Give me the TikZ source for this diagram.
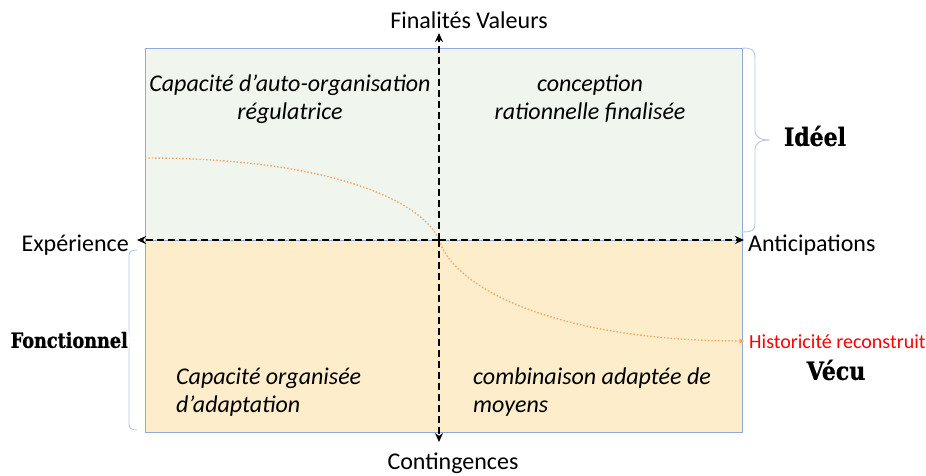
\documentclass[tikz,border=0pt]{standalone}
\usepackage{fontspec}
\setmainfont{Carlito}
\newfontfamily\slabfont[FakeStretch=0.84,FakeBold=1]{DejaVu Serif}
\newfontfamily\slabbigfont[FakeStretch=0.88,FakeBold=1]{DejaVu Serif}
\usetikzlibrary{arrows.meta}
\definecolor{greenfill}{HTML}{F0F6ED}
\definecolor{orangefill}{HTML}{FEEDCB}
\definecolor{boxborder}{HTML}{8FAADC}
\definecolor{curveorange}{HTML}{F4A460}
\definecolor{braceblue}{HTML}{B4C7E7}
\tikzset{
  zone/.style={draw=boxborder, line width=0.9pt},
  axis/.style={line width=2.8pt, dash pattern=on 7pt off 4pt, -{Stealth[length=9pt,width=8pt]}},
  quadtext/.style={font=\fontsize{24}{28}\selectfont\itshape, align=center, inner sep=0pt},
  quadleft/.style={font=\fontsize{24}{28}\selectfont\itshape, align=left, anchor=north west, inner sep=0pt},
  axislabel/.style={font=\fontsize{24}{26}\selectfont, inner sep=0pt},
  sidelabel/.style={font=\fontsize{21}{24}\selectfont\slabfont\bfseries, inner sep=0pt},
  sidebig/.style={font=\fontsize{25}{28}\selectfont\slabbigfont\bfseries, inner sep=0pt},
  bracestyle/.style={draw=braceblue, line width=0.9pt},
  curve/.style={draw=curveorange, line width=1.4pt, dotted, -{Stealth[length=5pt,width=5pt]}}
}
\begin{document}
\begin{tikzpicture}[x=1pt,y=-1pt]
\useasboundingbox (0,0) rectangle (926,475);
% zones
\filldraw[zone, fill=greenfill] (145,48) rectangle (742,240);
\filldraw[zone, fill=orangefill] (145,240) rectangle (742,432);
% coordinates
\coordinate (origin) at (439,240);
\coordinate (top) at (439,33);
\coordinate (bottom) at (439,442);
\coordinate (left) at (137,240);
\coordinate (right) at (744,240);
\coordinate (cstart) at (145,158);
\coordinate (cend) at (744,341);
% curve
\draw[curve] (cstart) .. controls (340,158) and (425,205) .. (origin)
  .. controls (455,290) and (560,341) .. (cend);
% axes
\draw[axis] (origin) -- (top);
\draw[axis] (origin) -- (bottom);
\draw[axis] (origin) -- (left);
\draw[axis] (origin) -- (right);
% axis labels
\node[axislabel] (fin) at (469,20) {Finalités Valeurs};
\node[axislabel] (cont) at (453,463) {Contingences};
\node[axislabel, anchor=east] (exp) at (129,245) {Expérience};
\node[axislabel, anchor=west] (anti) at (748,245) {Anticipations};
% quadrant texts
\node[quadtext] (q1) at (290,99) {Capacité d’auto-organisation\\régulatrice};
\node[quadtext] (q2) at (590,99) {conception\\rationnelle finalisée};
\node[quadleft] (q3) at (176,368) {Capacité organisée\\d’adaptation};
\node[quadleft] (q4) at (473,368) {combinaison adaptée de\\moyens};
% braces
\draw[bracestyle] (742,48) .. controls (752,48) and (755,50) .. (755,58) -- (755,130)
  .. controls (755,137) and (760,140) .. (770,140)
  .. controls (760,140) and (755,143) .. (755,150) -- (755,224)
  .. controls (755,230) and (752,232) .. (742,232);
\draw[bracestyle] (137,250) .. controls (131,250) and (129,252) .. (129,256) -- (129,334)
  .. controls (129,338) and (128,340) .. (124,340)
  .. controls (128,340) and (129,342) .. (129,346) -- (129,424)
  .. controls (129,428) and (131,430) .. (137,430);
% side labels
\node[sidebig] (ideel) at (815,136) {Idéel};
\node[sidelabel, anchor=east, fill=white, inner xsep=1pt] (fonc) at (129,340) {Fonctionnel};
\node[sidebig] (vecu) at (836,370) {Vécu};
\node[anchor=west, text=red, font=\fontsize{20}{22}\selectfont, inner sep=0pt] (hist) at (749,342) {Historicité reconstruit};
\end{tikzpicture}
\end{document}
